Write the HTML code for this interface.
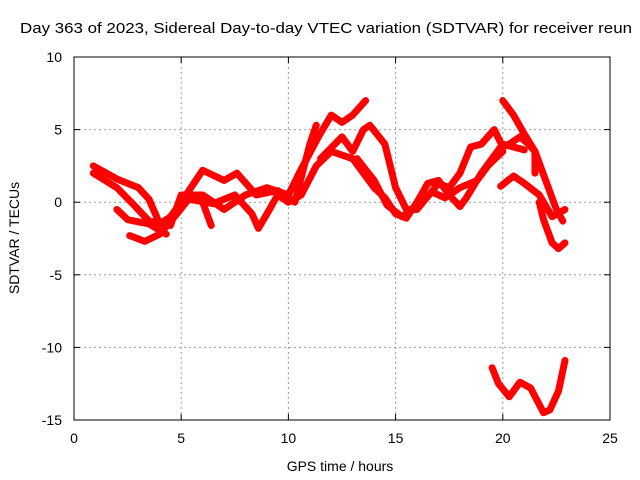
<!DOCTYPE html>
<html><head><meta charset="utf-8"><style>
body{margin:0;background:#fff}
svg{display:block;font-family:"Liberation Sans",sans-serif;font-size:14px}
</style></head><body>
<svg id="chart" width="640" height="480">
<text x="326" y="33" text-anchor="middle" textLength="612" lengthAdjust="spacingAndGlyphs" font-size="15">Day 363 of 2023, Sidereal Day-to-day VTEC variation (SDTVAR) for receiver reun</text>
<g id="grid"></g>
<g id="series"></g>
<rect x="74" y="57" width="536" height="363" fill="none" stroke="#000" stroke-width="1"/>
<g id="ticks"></g>
<text x="340" y="471" text-anchor="middle">GPS time / hours</text>
<text transform="translate(19,238) rotate(-90)" text-anchor="middle">SDTVAR / TECUs</text>
</svg>
<script>
const xTicks=[0,5,10,15,20,25];
const yTicks=[10,5,0,-5,-10,-15];
const trackA=[[0.9,2.5],[2,1.6],[3,1.0],[3.5,0.2],[4,-1.5],[4.5,-1],[5,0],[6,2.2],[7,1.5],[7.6,2],[8.5,0.5],[9.5,0.8],[10.3,0],[11,4],[11.3,5.3]];
const trackB=[[0.9,2],[2,1],[2.8,-0.2],[3.5,-1.3],[4.5,-1.6],[5,0.5],[6,0.5],[7,-0.5],[8,0.5],[9,1],[10,0.5],[10.5,2],[11.4,4.5],[12,6],[12.5,5.5],[13,6],[13.6,7]];
const trackC=[[2.0,-0.5],[2.5,-1.2],[3.5,-1.5],[4.3,-2.2]];
const trackD=[[2.6,-2.3],[3.3,-2.7],[4,-2.2],[4.8,-0.8],[5.5,0.5],[6,0],[6.4,-1.6]];
const trackE=[[5,0.3],[6.5,-0.1],[7.5,0.5],[8.3,-0.8],[8.6,-1.8],[9,-0.8],[9.5,0.5],[10,0],[10.6,0.5],[11.3,2.5],[12,3.5],[13,3],[13.5,2],[14,1],[14.5,0.3],[15,-0.8],[15.5,-1.1],[16,0],[16.5,1.3],[17,1.5],[17.5,0.5],[18,-0.3],[18.3,0.3],[19,2],[19.5,3],[20,4],[21,3.6]];
const trackF=[[11.5,3],[12.5,4.5],[13,3.5],[13.5,5],[13.8,5.3],[14.5,4],[15,1],[15.5,-0.5],[16,-0.5],[17,1.3],[17.5,1],[18,2],[18.5,3.8],[19,4],[19.6,5],[20,3.8],[20.3,4],[20.8,4.5],[21.2,4],[21.5,3.5],[21.5,2.0]];
const trackG=[[20.0,7],[20.5,6],[21,4.7],[21.5,3.5],[22,1.5],[22.5,-0.5],[22.8,-1.3]];
const trackH=[[19.9,1.1],[20.5,1.8],[21,1.3],[21.7,0.5],[22.3,-1],[22.9,-0.5]];
const trackI=[[21.7,0],[21.9,-1.2],[22.3,-2.8],[22.6,-3.2],[22.9,-2.8]];
const trackJ=[[19.5,-11.4],[19.8,-12.5],[20.3,-13.4],[20.8,-12.4],[21.3,-12.8],[21.9,-14.5],[22.2,-14.3],[22.6,-13],[22.9,-10.9]];
const trackK=[[13.2,3],[14,1.5],[14.6,-0.2],[15.3,-1],[16,-0.3],[16.7,0.7],[17.3,0.3],[18,1],[18.8,1.5],[19.3,2.5],[20,3.5]];
const tracks=[trackA,trackB,trackC,trackD,trackE,trackF,trackG,trackH,trackI,trackJ,trackK];

const X0=74,X1=610,Y0=420,Y1=57;
const sx=v=>X0+(v-0)/25*(X1-X0);
const sy=v=>Y0-(v+15)/25*(Y0-Y1);
const NS="http://www.w3.org/2000/svg";
const grid=document.getElementById('grid'),ticks=document.getElementById('ticks'),ser=document.getElementById('series');
function mk(tag,attrs,parent){const e=document.createElementNS(NS,tag);for(const k in attrs)e.setAttribute(k,attrs[k]);parent.appendChild(e);return e;}
xTicks.forEach(t=>{
  const x=sx(t);
  if(t>0&&t<25){const g=mk('line',{x1:x,x2:x,y1:Y1,y2:Y0,stroke:'#999','stroke-dasharray':'2,3'},grid);
  
  }
  const tk=mk('line',{x1:x,x2:x,y1:Y0,y2:Y0-6,stroke:'#000'},ticks);
  
  
  const tk2=mk('line',{x1:x,x2:x,y1:Y1,y2:Y1+6,stroke:'#000'},ticks);
  
  
  const tx=mk('text',{x:x,y:443,'text-anchor':'middle'},ticks);tx.textContent=t;
  
  
});
yTicks.forEach(t=>{
  const y=sy(t);
  if(t>-15&&t<10){const g=mk('line',{x1:X0,x2:X1,y1:y,y2:y,stroke:'#999','stroke-dasharray':'2,3'},grid);
  
  }
  const tk=mk('line',{x1:X0,x2:X0+6,y1:y,y2:y,stroke:'#000'},ticks);
  
  
  const tk2=mk('line',{x1:X1,x2:X1-6,y1:y,y2:y,stroke:'#000'},ticks);
  
  
  const tx=mk('text',{x:62,y:y+5,'text-anchor':'end'},ticks);tx.textContent=t;
  
  
});
tracks.forEach(tr=>{
  const p=mk('polyline',{points:tr.map(d=>sx(d[0])+','+sy(d[1])).join(' '),fill:'none',stroke:'#f00','stroke-width':7,'stroke-linejoin':'round','stroke-linecap':'round'},ser);
  
  
});
</script>
</body></html>
